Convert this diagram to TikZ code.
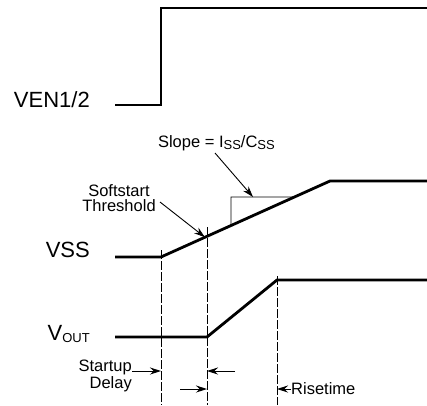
\documentclass[tikz,border=0pt]{standalone}
\usepackage{fontspec}
\setmainfont{Liberation Sans}
\usetikzlibrary{arrows.meta,calc}

\newcommand{\lowsub}[1]{\raisebox{-2pt}{\fontsize{13}{13}\selectfont #1}}

\begin{document}
\begin{tikzpicture}[
            x = 1pt, y = -1pt, % pixel grid
            > = {Stealth[length=11pt,width=7pt]}, % arrow head style
            wave/.style = {line width=2.8pt, line join=miter},
            guide/.style = {line width=0.9pt, dash pattern=on 9pt off 2pt},
            thinline/.style = {line width=0.9pt},
            biglabel/.style = {font=\fontsize{22}{24}\selectfont, inner sep=0pt},
            smalllabel/.style = {font=\fontsize{16.5}{15}\selectfont, inner sep=0pt}
        ]
\useasboundingbox (0,0) rectangle (427,405);

% enable
\coordinate (E0) at (115,105);
\coordinate (E1) at (161,105);
\coordinate (E2) at (161,8);
\coordinate (E3) at (427,8);
\draw[wave] (E0) -- (E1) -- (E2) -- (E3);
\node[biglabel, anchor=base east] (ven) at (90,107) {VEN1/2};

% softstart
\coordinate (S0) at (115,257);
\coordinate (S1) at (161,257);
\coordinate (S2) at (330,181);
\coordinate (S3) at (427,181);
\draw[wave] (S0) -- (S1) -- (S2) -- (S3);
\node[biglabel, anchor=base east] (vss) at (90,257) {VSS};

% output
\coordinate (O0) at (115,337);
\coordinate (O1) at (207,337);
\coordinate (O2) at (277,280);
\coordinate (O3) at (427,280);
\draw[wave] (O0) -- (O1) -- (O2) -- (O3);
\node[biglabel, anchor=base east] (vout) at (90,340) {V\lowsub{OUT}};

% time marks
\coordinate (G1top) at (161,250);
\coordinate (G1bot) at (161,405);
\coordinate (G2top) at (207,227);
\coordinate (G2bot) at (207,405);
\coordinate (G3top) at (277,276);
\coordinate (G3bot) at (277,405);
\draw[guide] (G1top) -- (G1bot);
\draw[guide] (G2top) -- (G2bot);
\draw[guide] (G3top) -- (G3bot);

% slope triangle
\coordinate (T0) at ($(S1)!0.414!(S2)$);
\coordinate (T1) at (231,197);
\coordinate (T2) at ($(S1)!0.79!(S2)$);
\coordinate (Ttop) at (253,197);
\draw[thinline] (T0) -- (T1) -- (T2);

\node[smalllabel, anchor=base east] (slope) at (275,147)
    {Slope = I\lowsub{SS}/C\lowsub{SS}};
\coordinate (slopefoot) at (215,153);
\path [->, thinline] (slopefoot) edge (Ttop);

\node[smalllabel, align=center, anchor=base] (thresh) at (119,211)
    {Softstart\\Threshold};
\coordinate (threshfoot) at (160,202);
\coordinate (threshtip) at ($(S1)!0.26!(S2)$);
\path [->, thinline] (threshfoot) edge (threshtip);

% delays
\node[smalllabel, align=right, anchor=base east] (delay) at (132,388)
    {Startup\\Delay};
\coordinate (D0) at (132,371);
\coordinate (D1) at (161,371);
\coordinate (D2) at (235,371);
\coordinate (D3) at (207,371);
\path [->, thinline] (D0) edge (D1);
\path [->, thinline] (D2) edge (D3);

\coordinate (R0) at (180,389);
\coordinate (R1) at (207,389);
\coordinate (R2) at (291,389);
\coordinate (R3) at (277,389);
\path [->, thinline] (R0) edge (R1);
\path [->, thinline] (R2) edge (R3);
\node[smalllabel, anchor=west] (rise) at (R2) {Risetime};
\end{tikzpicture}
\end{document}
